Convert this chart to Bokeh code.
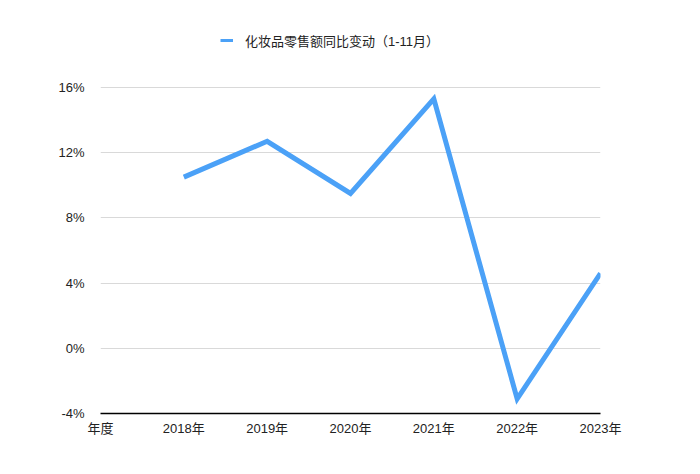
from bokeh.plotting import figure
from bokeh.models import FixedTicker, PrintfTickFormatter, Legend, LegendItem
from bokeh.embed import file_html
from bokeh.resources import INLINE

# ---- data ----
categories = ["年度", "2018年", "2019年", "2020年", "2021年", "2022年", "2023年"]
years = ["2018年", "2019年", "2020年", "2021年", "2022年", "2023年"]
growth = [10.5, 12.7, 9.5, 15.3, -3.1, 4.6]
y_ticks = [-4, 0, 4, 8, 12, 16]
series_name = "化妆品零售额同比变动（1-11月）"

FONT = "Liberation Sans, Noto Sans CJK SC"
BLUE = "#4BA1F7"

x_pos = [categories.index(y) for y in years]

# frame extends above the top tick so that the legend sits inside it
Y_TOP = 20.11

p = figure(
    frame_width=500, frame_height=393,
    x_range=(0, len(categories) - 1), y_range=(y_ticks[0], Y_TOP),
    output_backend="svg", toolbar_location=None,
    min_border_left=100, min_border_right=84,
    min_border_top=20, min_border_bottom=45,
)
p.outline_line_color = None
p.background_fill_color = "white"
p.border_fill_color = "white"

main = p.line(x_pos, growth, line_color=BLUE, line_width=5,
              line_join="miter", line_cap="butt")
# legend-only renderer (draws nothing in the plot: its single point is NaN)
legend_dummy = p.line([float("nan")], [float("nan")], line_color=BLUE, line_width=3)

# x axis
p.xaxis.ticker = FixedTicker(ticks=list(range(len(categories))))
p.xaxis.major_label_overrides = {i: c for i, c in enumerate(categories)}
p.xaxis.axis_line_color = "black"
p.xaxis.axis_line_width = 1.5
p.xaxis.major_tick_line_color = None
p.xaxis.minor_tick_line_color = None
p.xaxis.major_tick_out = 0
p.xaxis.major_tick_in = 0
p.xaxis.major_label_standoff = 7
p.xaxis.major_label_text_font = FONT
p.xaxis.major_label_text_font_size = "13px"
p.xaxis.major_label_text_color = "#222222"

# y axis
p.yaxis.ticker = FixedTicker(ticks=y_ticks)
p.yaxis.formatter = PrintfTickFormatter(format="%d%%")
p.yaxis.axis_line_color = None
p.yaxis.major_tick_line_color = None
p.yaxis.minor_tick_line_color = None
p.yaxis.major_tick_out = 0
p.yaxis.major_tick_in = 0
p.yaxis.major_label_standoff = 16
p.yaxis.major_label_text_font = FONT
p.yaxis.major_label_text_font_size = "13px"
p.yaxis.major_label_text_color = "#222222"

p.xgrid.grid_line_color = None
p.ygrid.ticker = FixedTicker(ticks=y_ticks)
p.ygrid.grid_line_color = "#d9d9d9"
p.ygrid.grid_line_width = 1

legend = Legend(
    items=[LegendItem(label=series_name, renderers=[legend_dummy])],
    location=(120, 363), orientation="horizontal",
    border_line_color=None, background_fill_alpha=0,
    padding=0, margin=0, spacing=0,
    glyph_width=13, glyph_height=20, label_height=20,
    label_standoff=12,
    label_text_font=FONT, label_text_font_size="13px",
    label_text_color="#222222",
)
p.add_layout(legend, "center")

open("out.html", "w").write(file_html(p, INLINE))
